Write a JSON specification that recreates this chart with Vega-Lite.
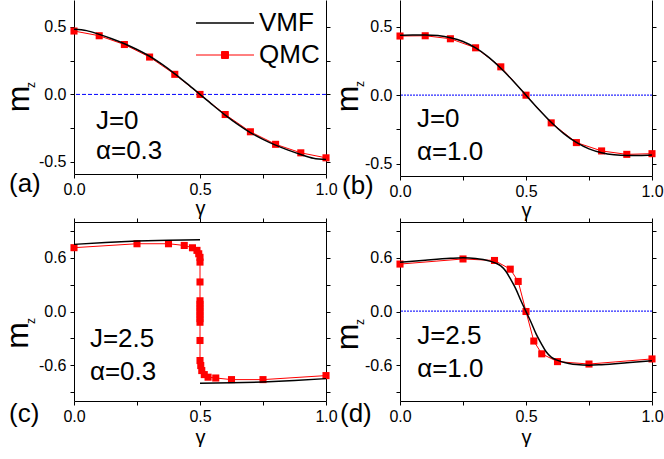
{
  "$schema": "https://vega.github.io/schema/vega-lite/v6.json",
  "padding": {"left": 1, "top": 0, "right": 0, "bottom": 0},
  "background": "white",
  "config": {
    "font": "Liberation Sans",
    "view": {"stroke": null},
    "axis": {"grid": false, "domainColor": "black", "tickColor": "black", "labelColor": "black", "titleColor": "black", "labelFontSize": 16, "tickSize": 4, "titleFontWeight": "normal", "domainWidth": 1, "tickWidth": 1, "labelFlush": false, "labelOverlap": false, "labelBound": false},
    "title": {"fontSize": 26, "fontWeight": "normal", "color": "black"}
  },
  "columns": 2,
  "bounds": "flush",
  "spacing": {"row": 46, "column": 74},
  "datasets": {
    "a_q": [
      {"g": 0.0, "m": 0.47, "s": "QMC"}, {"g": 0.1, "m": 0.435, "s": "QMC"}, {"g": 0.2, "m": 0.37, "s": "QMC"}, {"g": 0.3, "m": 0.277, "s": "QMC"}, {"g": 0.4, "m": 0.149, "s": "QMC"}, {"g": 0.5, "m": 0.0, "s": "QMC"}, {"g": 0.6, "m": -0.149, "s": "QMC"}, {"g": 0.7, "m": -0.277, "s": "QMC"}, {"g": 0.8, "m": -0.37, "s": "QMC"}, {"g": 0.9, "m": -0.433, "s": "QMC"}, {"g": 1.0, "m": -0.47, "s": "QMC"}
    ],
    "a_v": [
      {"g": 0.0, "m": 0.483, "s": "VMF"}, {"g": 0.05, "m": 0.473, "s": "VMF"}, {"g": 0.1, "m": 0.445, "s": "VMF"}, {"g": 0.15, "m": 0.413, "s": "VMF"}, {"g": 0.2, "m": 0.376, "s": "VMF"}, {"g": 0.25, "m": 0.333, "s": "VMF"}, {"g": 0.3, "m": 0.283, "s": "VMF"}, {"g": 0.35, "m": 0.222, "s": "VMF"}, {"g": 0.4, "m": 0.153, "s": "VMF"}, {"g": 0.45, "m": 0.078, "s": "VMF"}, {"g": 0.5, "m": 0.0, "s": "VMF"}, {"g": 0.55, "m": -0.078, "s": "VMF"}, {"g": 0.6, "m": -0.153, "s": "VMF"}, {"g": 0.65, "m": -0.222, "s": "VMF"}, {"g": 0.7, "m": -0.283, "s": "VMF"}, {"g": 0.75, "m": -0.333, "s": "VMF"}, {"g": 0.8, "m": -0.376, "s": "VMF"}, {"g": 0.85, "m": -0.413, "s": "VMF"}, {"g": 0.9, "m": -0.445, "s": "VMF"}, {"g": 0.95, "m": -0.473, "s": "VMF"}, {"g": 1.0, "m": -0.483, "s": "VMF"}
    ],
    "b_q": [
      {"g": 0.0, "m": 0.432}, {"g": 0.1, "m": 0.434}, {"g": 0.2, "m": 0.412}, {"g": 0.3, "m": 0.346}, {"g": 0.4, "m": 0.207}, {"g": 0.5, "m": 0.0}, {"g": 0.6, "m": -0.202}, {"g": 0.7, "m": -0.346}, {"g": 0.8, "m": -0.407}, {"g": 0.9, "m": -0.432}, {"g": 1.0, "m": -0.427}
    ],
    "b_v": [
      {"g": 0.0, "m": 0.437}, {"g": 0.05, "m": 0.44}, {"g": 0.1, "m": 0.44}, {"g": 0.15, "m": 0.435}, {"g": 0.2, "m": 0.42}, {"g": 0.25, "m": 0.392}, {"g": 0.3, "m": 0.345}, {"g": 0.35, "m": 0.28}, {"g": 0.4, "m": 0.197}, {"g": 0.45, "m": 0.102}, {"g": 0.5, "m": 0.0}, {"g": 0.55, "m": -0.102}, {"g": 0.6, "m": -0.197}, {"g": 0.65, "m": -0.28}, {"g": 0.7, "m": -0.345}, {"g": 0.75, "m": -0.392}, {"g": 0.8, "m": -0.42}, {"g": 0.85, "m": -0.435}, {"g": 0.9, "m": -0.44}, {"g": 0.95, "m": -0.44}, {"g": 1.0, "m": -0.437}
    ],
    "c_q": [
      {"g": 0.0, "m": 0.713}, {"g": 0.25, "m": 0.757}, {"g": 0.375, "m": 0.757}, {"g": 0.4375, "m": 0.738}, {"g": 0.47, "m": 0.712}, {"g": 0.488, "m": 0.683}, {"g": 0.495, "m": 0.645}, {"g": 0.5, "m": 0.605}, {"g": 0.5, "m": 0.552}, {"g": 0.5, "m": 0.33}, {"g": 0.5, "m": 0.12}, {"g": 0.5, "m": 0.08}, {"g": 0.5, "m": 0.04}, {"g": 0.5, "m": 0.0}, {"g": 0.5, "m": -0.04}, {"g": 0.5, "m": -0.08}, {"g": 0.5, "m": -0.12}, {"g": 0.5, "m": -0.324}, {"g": 0.5, "m": -0.548}, {"g": 0.503, "m": -0.604}, {"g": 0.507, "m": -0.66}, {"g": 0.517, "m": -0.705}, {"g": 0.532, "m": -0.734}, {"g": 0.5625, "m": -0.743}, {"g": 0.625, "m": -0.761}, {"g": 0.75, "m": -0.761}, {"g": 1.0, "m": -0.716}
    ],
    "c_v": [
      {"g": 0.0, "m": 0.75, "seg": 1}, {"g": 0.125, "m": 0.77, "seg": 1}, {"g": 0.25, "m": 0.787, "seg": 1}, {"g": 0.375, "m": 0.797, "seg": 1}, {"g": 0.5, "m": 0.802, "seg": 1},
      {"g": 0.5, "m": -0.802, "seg": 2}, {"g": 0.625, "m": -0.797, "seg": 2}, {"g": 0.75, "m": -0.787, "seg": 2}, {"g": 0.875, "m": -0.77, "seg": 2}, {"g": 1.0, "m": -0.75, "seg": 2}
    ],
    "d_q": [
      {"g": 0.0, "m": 0.53}, {"g": 0.25, "m": 0.587}, {"g": 0.375, "m": 0.57}, {"g": 0.4375, "m": 0.473}, {"g": 0.469, "m": 0.336}, {"g": 0.5, "m": 0.0}, {"g": 0.531, "m": -0.33}, {"g": 0.5625, "m": -0.473}, {"g": 0.625, "m": -0.56}, {"g": 0.75, "m": -0.587}, {"g": 1.0, "m": -0.53}
    ],
    "d_v": [
      {"g": 0.0, "m": 0.549}, {"g": 0.1, "m": 0.573}, {"g": 0.2, "m": 0.594}, {"g": 0.25, "m": 0.6}, {"g": 0.3, "m": 0.593}, {"g": 0.33, "m": 0.58}, {"g": 0.36, "m": 0.56}, {"g": 0.38, "m": 0.54}, {"g": 0.4, "m": 0.51}, {"g": 0.42, "m": 0.45}, {"g": 0.44, "m": 0.355}, {"g": 0.46, "m": 0.25}, {"g": 0.48, "m": 0.12}, {"g": 0.5, "m": 0.0}, {"g": 0.52, "m": -0.12}, {"g": 0.54, "m": -0.25}, {"g": 0.56, "m": -0.355}, {"g": 0.58, "m": -0.45}, {"g": 0.6, "m": -0.51}, {"g": 0.62, "m": -0.54}, {"g": 0.64, "m": -0.56}, {"g": 0.67, "m": -0.58}, {"g": 0.7, "m": -0.593}, {"g": 0.75, "m": -0.6}, {"g": 0.8, "m": -0.594}, {"g": 0.9, "m": -0.573}, {"g": 1.0, "m": -0.549}
    ]
  },
  "concat": [
    {
      "width": 252, "height": 174,
      "title": {"text": "(a)", "orient": "bottom", "anchor": "start", "frame": "group", "baseline": "alphabetic", "dx": -65, "dy": -30},
      "resolve": {"axis": {"x": "independent", "y": "independent"}},
      "layer": [
        {"data": {"values": [{}]}, "mark": {"type": "rule", "color": "#0000ff", "strokeWidth": 1, "strokeDash": [4, 2]},
         "encoding": {"y": {"datum": 0, "type": "quantitative", "axis": null, "scale": {"domain": [-0.59, 0.7], "nice": false, "zero": false}}}},
        {"data": {"name": "a_q"}, "mark": {"type": "line", "strokeWidth": 1, "point": {"shape": "square", "size": 50, "filled": true, "opacity": 1}},
         "encoding": {
           "x": {"field": "g", "type": "quantitative", "scale": {"domain": [0, 1], "nice": false}, "axis": {"orient": "bottom", "values": [0, 0.25, 0.5, 0.75, 1], "labelExpr": "abs(datum.value*2 - round(datum.value*2)) < 1e-6 ? format(datum.value, '.1f') : ''", "labelPadding": 3, "title": "γ", "titleFontSize": 20, "titleBaseline": "alphabetic", "titleY": 40}},
           "y": {"field": "m", "type": "quantitative", "scale": {"domain": [-0.59, 0.7], "nice": false, "zero": false}, "axis": {"orient": "left", "values": [-0.5, -0.25, 0, 0.25, 0.5], "labelExpr": "abs(datum.value*2 - round(datum.value*2)) < 1e-6 ? (datum.value < 0 ? '-' : '') + format(abs(datum.value), '.1f') : ''", "labelPadding": 4, "title": "m", "titleFontSize": 32, "titleAngle": -90, "titleBaseline": "alphabetic", "titleAlign": "center", "titleX": -46, "titleY": 98.5}},
           "color": {"field": "s", "type": "nominal", "scale": {"domain": ["VMF", "QMC"], "range": ["black", "#ff0000"]},
             "legend": {"title": null, "orient": "none", "legendX": 138, "legendY": 10, "padding": 0, "symbolType": "stroke", "symbolSize": 3364, "symbolStrokeWidth": 1.5, "rowPadding": 6, "labelFontSize": 26, "labelOffset": 21, "labelColor": "black",
               "encode": {"symbols": {"update": {"shape": {"signal": "datum.value === 'QMC' ? 'M-1,0H1M-0.12,-0.12H0.12V0.12H-0.12Z' : 'stroke'"}, "fill": {"signal": "datum.value === 'QMC' ? '#ff0000' : 'transparent'"}, "strokeWidth": {"signal": "datum.value === 'QMC' ? 1 : 1.5"}}}}}}
         }},
        {"data": {"name": "a_v"}, "mark": {"type": "line", "strokeWidth": 1.5, "interpolate": "monotone"},
         "encoding": {
           "x": {"field": "g", "type": "quantitative", "scale": {"domain": [0, 1], "nice": false}, "axis": null},
           "y": {"field": "m", "type": "quantitative", "scale": {"domain": [-0.59, 0.7], "nice": false, "zero": false}, "axis": {"orient": "right", "values": [-0.5, -0.25, 0, 0.25, 0.5], "labels": false, "title": "z", "titleFontSize": 12, "titleAngle": -90, "titleBaseline": "alphabetic", "titleAlign": "center", "titleX": -292, "titleY": 84.5}},
           "color": {"field": "s", "type": "nominal", "scale": {"domain": ["VMF", "QMC"], "range": ["black", "#ff0000"]},
             "legend": {"title": null, "orient": "none", "legendX": 138, "legendY": 10, "padding": 0, "symbolType": "stroke", "symbolSize": 3364, "symbolStrokeWidth": 1.5, "rowPadding": 6, "labelFontSize": 26, "labelOffset": 21, "labelColor": "black",
               "encode": {"symbols": {"update": {"shape": {"signal": "datum.value === 'QMC' ? 'M-1,0H1M-0.12,-0.12H0.12V0.12H-0.12Z' : 'stroke'"}, "fill": {"signal": "datum.value === 'QMC' ? '#ff0000' : 'transparent'"}, "strokeWidth": {"signal": "datum.value === 'QMC' ? 1 : 1.5"}}}}}}
         }},
        {"data": {"values": [{}]}, "mark": {"type": "text", "align": "left", "baseline": "alphabetic", "fontSize": 26, "lineHeight": 30, "color": "black"},
         "encoding": {"x": {"datum": 0.087, "type": "quantitative", "axis": null}, "y": {"datum": -0.26, "type": "quantitative", "axis": null}, "text": {"value": ["J=0", "α=0.3"]}}}
      ]
    },
    {
      "width": 252, "height": 176,
      "title": {"text": "(b)", "orient": "bottom", "anchor": "start", "frame": "group", "baseline": "alphabetic", "dx": -58, "dy": -30},
      "resolve": {"axis": {"x": "independent", "y": "independent"}},
      "layer": [
        {"data": {"values": [{}]}, "mark": {"type": "rule", "color": "#2b2bff", "strokeWidth": 1.2, "strokeDash": [2, 1]},
         "encoding": {"y": {"datum": 0, "type": "quantitative", "axis": null, "scale": {"domain": [-0.59, 0.695], "nice": false, "zero": false}}}},
        {"data": {"name": "b_q"}, "mark": {"type": "line", "strokeWidth": 1, "color": "#ff0000", "point": {"shape": "square", "size": 50, "filled": true, "opacity": 1, "color": "#ff0000"}},
         "encoding": {
           "x": {"field": "g", "type": "quantitative", "scale": {"domain": [0, 1], "nice": false}, "axis": {"orient": "bottom", "values": [0, 0.25, 0.5, 0.75, 1], "labelExpr": "abs(datum.value*2 - round(datum.value*2)) < 1e-6 ? format(datum.value, '.1f') : ''", "labelPadding": 3, "title": "γ", "titleFontSize": 20, "titleBaseline": "alphabetic", "titleY": 40}},
           "y": {"field": "m", "type": "quantitative", "scale": {"domain": [-0.59, 0.695], "nice": false, "zero": false}, "axis": {"orient": "left", "values": [-0.5, -0.25, 0, 0.25, 0.5], "labelExpr": "abs(datum.value*2 - round(datum.value*2)) < 1e-6 ? (datum.value < 0 ? '-' : '') + format(abs(datum.value), '.1f') : ''", "labelPadding": 4, "title": "m", "titleFontSize": 32, "titleAngle": -90, "titleBaseline": "alphabetic", "titleAlign": "center", "titleX": -43, "titleY": 98.5}}
         }},
        {"data": {"name": "b_v"}, "mark": {"type": "line", "strokeWidth": 1.5, "color": "black", "interpolate": "monotone"},
         "encoding": {
           "x": {"field": "g", "type": "quantitative", "scale": {"domain": [0, 1], "nice": false}, "axis": null},
           "y": {"field": "m", "type": "quantitative", "scale": {"domain": [-0.59, 0.695], "nice": false, "zero": false}, "axis": {"orient": "right", "values": [-0.5, -0.25, 0, 0.25, 0.5], "labels": false, "title": "z", "titleFontSize": 12, "titleAngle": -90, "titleBaseline": "alphabetic", "titleAlign": "center", "titleX": -289, "titleY": 83.5}}
         }},
        {"data": {"values": [{}]}, "mark": {"type": "text", "align": "left", "baseline": "alphabetic", "fontSize": 26, "lineHeight": 33, "color": "black"},
         "encoding": {"x": {"datum": 0.067, "type": "quantitative", "axis": null}, "y": {"datum": -0.234, "type": "quantitative", "axis": null}, "text": {"value": ["J=0", "α=1.0"]}}}
      ]
    },
    {
      "width": 252, "height": 179,
      "title": {"text": "(c)", "orient": "bottom", "anchor": "start", "frame": "group", "baseline": "alphabetic", "dx": -65, "dy": -29},
      "resolve": {"axis": {"x": "independent", "y": "independent"}},
      "layer": [
        {"data": {"name": "c_q"}, "mark": {"type": "line", "strokeWidth": 1, "color": "#ff0000", "point": {"shape": "square", "size": 50, "filled": true, "opacity": 1, "color": "#ff0000"}},
         "encoding": {
           "x": {"field": "g", "type": "quantitative", "scale": {"domain": [0, 1], "nice": false}, "axis": {"orient": "bottom", "values": [0, 0.25, 0.5, 0.75, 1], "labelExpr": "abs(datum.value*2 - round(datum.value*2)) < 1e-6 ? format(datum.value, '.1f') : ''", "labelPadding": 3, "title": "γ", "titleFontSize": 20, "titleBaseline": "alphabetic", "titleY": 42}},
           "y": {"field": "m", "type": "quantitative", "scale": {"domain": [-1, 1], "nice": false, "zero": false}, "axis": {"orient": "left", "values": [-0.9, -0.6, -0.3, 0, 0.3, 0.6, 0.9], "labelExpr": "(abs(datum.value) < 1e-6 || abs(abs(datum.value) - 0.6) < 1e-6) ? (datum.value < -1e-6 ? '-' : '') + format(abs(datum.value), '.1f') : ''", "labelPadding": 4, "title": "m", "titleFontSize": 32, "titleAngle": -90, "titleBaseline": "alphabetic", "titleAlign": "center", "titleX": -47, "titleY": 113}},
           "order": [{"field": "g", "type": "quantitative"}, {"field": "m", "type": "quantitative", "sort": "descending"}]
         }},
        {"data": {"name": "c_v"}, "mark": {"type": "line", "strokeWidth": 1.5, "color": "black"},
         "encoding": {
           "x": {"field": "g", "type": "quantitative", "scale": {"domain": [0, 1], "nice": false}, "axis": {"orient": "top", "values": [0, 0.25, 0.5, 0.75, 1], "labels": false, "title": null}},
           "y": {"field": "m", "type": "quantitative", "scale": {"domain": [-1, 1], "nice": false, "zero": false}, "axis": {"orient": "right", "values": [-0.9, -0.6, -0.3, 0, 0.3, 0.6, 0.9], "labels": false, "title": "z", "titleFontSize": 12, "titleAngle": -90, "titleBaseline": "alphabetic", "titleAlign": "center", "titleX": -292, "titleY": 98.5}},
           "detail": {"field": "seg", "type": "nominal"}
         }},
        {"data": {"values": [{}]}, "mark": {"type": "text", "align": "left", "baseline": "alphabetic", "fontSize": 26, "lineHeight": 33, "color": "black"},
         "encoding": {"x": {"datum": 0.063, "type": "quantitative", "axis": null}, "y": {"datum": -0.398, "type": "quantitative", "axis": null}, "text": {"value": ["J=2.5", "α=0.3"]}}}
      ]
    },
    {
      "width": 252, "height": 179,
      "title": {"text": "(d)", "orient": "bottom", "anchor": "start", "frame": "group", "baseline": "alphabetic", "dx": -60, "dy": -29},
      "resolve": {"axis": {"x": "independent", "y": "independent"}},
      "layer": [
        {"data": {"values": [{}]}, "mark": {"type": "rule", "color": "#2b2bff", "strokeWidth": 1.2, "strokeDash": [2, 1]},
         "encoding": {"y": {"datum": 0.004, "type": "quantitative", "axis": null, "scale": {"domain": [-1, 1], "nice": false, "zero": false}}}},
        {"data": {"name": "d_q"}, "mark": {"type": "line", "strokeWidth": 1, "color": "#ff0000", "point": {"shape": "square", "size": 50, "filled": true, "opacity": 1, "color": "#ff0000"}},
         "encoding": {
           "x": {"field": "g", "type": "quantitative", "scale": {"domain": [0, 1], "nice": false}, "axis": {"orient": "bottom", "values": [0, 0.25, 0.5, 0.75, 1], "labelExpr": "abs(datum.value*2 - round(datum.value*2)) < 1e-6 ? format(datum.value, '.1f') : ''", "labelPadding": 3, "title": "γ", "titleFontSize": 20, "titleBaseline": "alphabetic", "titleY": 42}},
           "y": {"field": "m", "type": "quantitative", "scale": {"domain": [-1, 1], "nice": false, "zero": false}, "axis": {"orient": "left", "values": [-0.9, -0.6, -0.3, 0, 0.3, 0.6, 0.9], "labelExpr": "(abs(datum.value) < 1e-6 || abs(abs(datum.value) - 0.6) < 1e-6) ? (datum.value < -1e-6 ? '-' : '') + format(abs(datum.value), '.1f') : ''", "labelPadding": 4, "title": "m", "titleFontSize": 32, "titleAngle": -90, "titleBaseline": "alphabetic", "titleAlign": "center", "titleX": -43, "titleY": 114.5}}
         }},
        {"data": {"name": "d_v"}, "mark": {"type": "line", "strokeWidth": 1.5, "color": "black", "interpolate": "monotone"},
         "encoding": {
           "x": {"field": "g", "type": "quantitative", "scale": {"domain": [0, 1], "nice": false}, "axis": {"orient": "top", "values": [0, 0.25, 0.5, 0.75, 1], "labels": false, "title": null}},
           "y": {"field": "m", "type": "quantitative", "scale": {"domain": [-1, 1], "nice": false, "zero": false}, "axis": {"orient": "right", "values": [-0.9, -0.6, -0.3, 0, 0.3, 0.6, 0.9], "labels": false, "title": "z", "titleFontSize": 12, "titleAngle": -90, "titleBaseline": "alphabetic", "titleAlign": "center", "titleX": -289, "titleY": 99.5}}
         }},
        {"data": {"values": [{}]}, "mark": {"type": "text", "align": "left", "baseline": "alphabetic", "fontSize": 26, "lineHeight": 33, "color": "black"},
         "encoding": {"x": {"datum": 0.068, "type": "quantitative", "axis": null}, "y": {"datum": -0.368, "type": "quantitative", "axis": null}, "text": {"value": ["J=2.5", "α=1.0"]}}}
      ]
    }
  ]
}
